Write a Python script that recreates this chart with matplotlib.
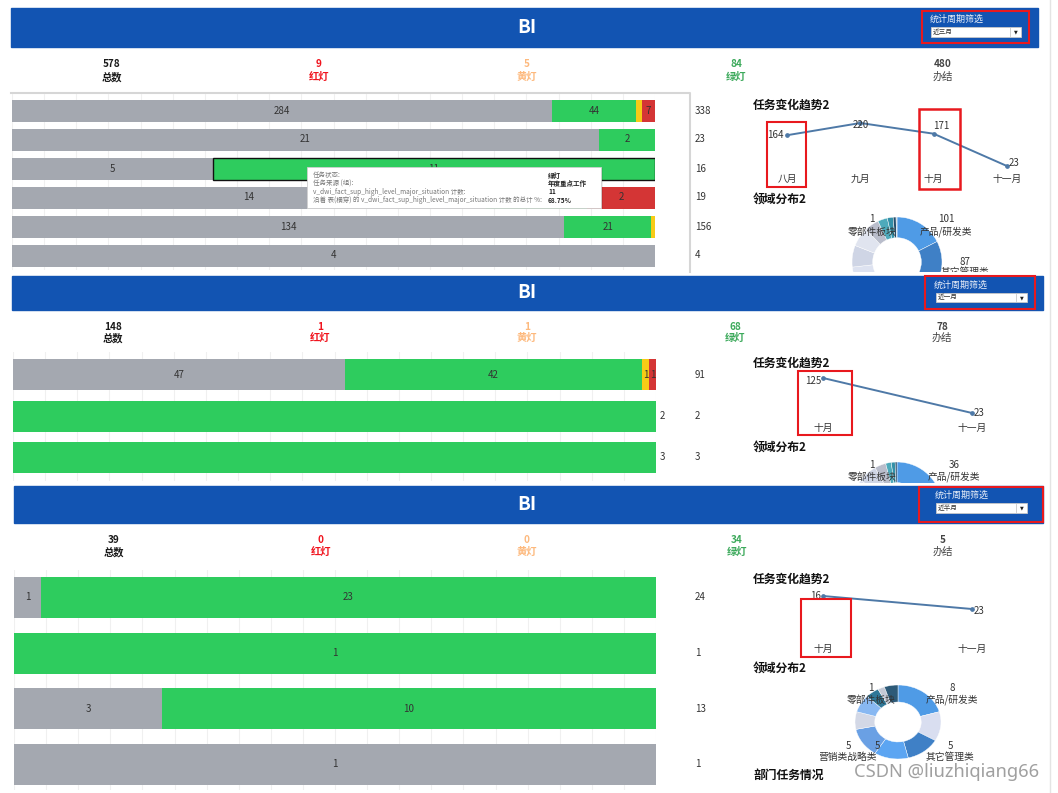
import matplotlib
matplotlib.use('Agg')
import matplotlib.pyplot as plt
import matplotlib.transforms as mtrans
from matplotlib.patches import Rectangle
import numpy as np

plt.rcParams['font.family'] = ['Noto Sans CJK SC', 'DejaVu Sans']

# ---------------- data ----------------
periods = ['近三月', '近一月', '近半月']
filter_title = '统计周期筛选'
kpi_labels = ['总数', '红灯', '黄灯', '绿灯', '办结']
kpi_values_1 = [578, 9, 5, 84, 480]
kpi_values_2 = [148, 1, 1, 68, 78]
kpi_values_3 = [39, 0, 0, 34, 5]

# stacked segments per row: 办结(grey), 绿灯, 黄灯, 红灯
p1_done = [284, 21, 5, 14, 134, 4]
p1_green = [44, 2, 11, 3, 21, 0]
p1_yellow = [3, 0, 0, 0, 1, 0]
p1_red = [7, 0, 0, 2, 0, 0]

p2_done = [47, 0, 0]
p2_green = [42, 2, 3]
p2_yellow = [1, 0, 0]
p2_red = [1, 0, 0]

p3_done = [1, 0, 3, 1]
p3_green = [23, 1, 10, 0]
p3_yellow = [0, 0, 0, 0]
p3_red = [0, 0, 0, 0]

trend_title = '任务变化趋势2'
trend_months_1 = ['八月', '九月', '十月', '十一月']
trend_values_1 = [164, 220, 171, 23]
trend_months_2 = ['十月', '十一月']
trend_values_2 = [125, 23]
trend_months_3 = ['十月', '十一月']
trend_values_3 = [16, 23]

domain_title = '领域分布2'
domain_values_1 = [101, 87, 95, 80, 60, 45, 40, 30, 20, 12, 6, 1, 1]
domain_values_2 = [36, 30, 25, 20, 15, 10, 6, 3, 2, 1]
domain_values_3 = [8, 5, 5, 5, 5, 3, 3, 2, 1, 2]
domain_labels_1 = [('1', '零部件板块'), ('101', '产品/研发类'), ('87', '其它管理类')]
domain_labels_2 = [('1', '零部件板块'), ('36', '产品/研发类')]
domain_labels_3 = [('1', '零部件板块'), ('8', '产品/研发类'), ('5', '其它管理类'),
                   ('5', ''), ('5', '营销类战略类')]

tooltip_keys = ['任务状态:', '任务来源 (组):',
                'v_dwi_fact_sup_high_level_major_situation 计数:',
                '沿着 表(横穿) 的 v_dwi_fact_sup_high_level_major_situation 计数 的总计 %:']
tooltip_vals = ['绿灯', '年度重点工作', '11', '68.75%']

# ---------------- styles ----------------
W, H = 1058, 793
PT = 0.72
BLUE = '#1254B2'
RED_BOX = '#E8191E'
seg_colors = ['#A4A8B0', '#2ECC5E', '#F7CB16', '#D43535']
kpi_colors = ['#1a1a1a', '#F0141E', '#FDB97D', '#3DAA5C', '#444444']
kpi_weights = ['bold', 'bold', 'bold', 'bold', 'normal']
donut_colors_1 = ['#4F9BE6', '#3F80C6', '#6AA8EE', '#5EA8F2', '#DDE2F0', '#CFD5E5',
                  '#E0E4EF', '#B9BDCB', '#4EAABB', '#3390A8', '#254E6C', '#CFE0EA', '#2C5472']
donut_colors_2 = ['#4F9BE6', '#3F80C6', '#6AA8EE', '#5EA8F2', '#DDE2F0', '#CFD5E5',
                  '#B9BDCB', '#4EAABB', '#3390A8', '#254E6C']
donut_colors_3 = ['#4F9BE6', '#D9DEF0', '#3F80C6', '#5CA5F2', '#6AA0E4', '#D3D8E6',
                  '#88B8F2', '#2F7898', '#C5CAD6', '#2D5A78']

fig = plt.figure(figsize=(W / 100, H / 100), dpi=100)


def fbox(x0, y0, x1, y1):
    return [x0 / W, 1 - y1 / H, (x1 - x0) / W, (y1 - y0) / H]


bg = fig.add_axes([0, 0, 1, 1], zorder=0)
bg.set_xlim(0, W); bg.set_ylim(H, 0); bg.axis('off')
ov = fig.add_axes([0, 0, 1, 1], zorder=10)
ov.set_xlim(0, W); ov.set_ylim(H, 0); ov.axis('off')

# page edge line
bg.plot([1050, 1050], [0, H], color='#e4e4e4', lw=1)


def header(hb, fb, ftxt, dd, sep, period):
    x0, y0, x1, y1 = hb
    bg.add_patch(Rectangle((x0, y0), x1 - x0, y1 - y0, color=BLUE, zorder=1))
    bg.text(527, (y0 + y1) / 2, 'BI', color='white', fontsize=13.5, fontweight='bold',
            ha='center', va='center', zorder=2)
    bg.text(ftxt[0], ftxt[1], filter_title, color='#e8eef8', fontsize=6.5,
            ha='left', va='center', zorder=2)
    dx0, dy0, dx1, dy1 = dd
    bg.add_patch(Rectangle((dx0, dy0), dx1 - dx0, dy1 - dy0, facecolor='white',
                           edgecolor='#c8c8c8', lw=0.6, zorder=2))
    bg.plot([sep, sep], [dy0 + 1, dy1 - 1], color='#c8c8c8', lw=0.6, zorder=3)
    bg.text(dx0 + 2, (dy0 + dy1) / 2, period, fontsize=4.8, color='#333',
            ha='left', va='center', zorder=3)
    bg.text((sep + dx1) / 2, (dy0 + dy1) / 2 + 0.3, '▼', fontsize=3.5, color='#222',
            ha='center', va='center', zorder=3, family='DejaVu Sans')
    fx0, fy0, fx1, fy1 = fb
    ov.add_patch(Rectangle((fx0, fy0), fx1 - fx0, fy1 - fy0, fill=False,
                           ec=RED_BOX, lw=1.5))


def kpis(xs, y_num, y_lab, values):
    for x, v, lab, c, w in zip(xs, values, kpi_labels, kpi_colors, kpi_weights):
        bg.text(x, y_num, str(v), color=c, fontsize=7.2, fontweight='bold',
                ha='center', va='center')
        bg.text(x, y_lab, lab, color=c, fontsize=7.4, fontweight=w,
                ha='center', va='center')


def draw_bars(ax_px, c0, step, h, series, label_outside=False, highlight=None):
    x0, y0, x1, y1 = ax_px
    ax = fig.add_axes(fbox(*ax_px), zorder=1)
    n = len(series[0])
    totals = [sum(s[i] for s in series) for i in range(n)]
    ypos = np.arange(n)
    left = np.zeros(n)
    for k, s in enumerate(series):
        pct = np.array([s[i] / totals[i] * 100 for i in range(n)])
        bc = ax.barh(ypos, pct, left=left, height=h / step, color=seg_colors[k],
                     zorder=2, lw=0)
        for i in range(n):
            if s[i] == 0:
                continue
            if highlight == (i, k):
                bc[i].set_edgecolor('#111')
                bc[i].set_linewidth(1.0)
            wpx = pct[i] / 100 * (x1 - x0)
            if label_outside and pct[i] >= 99.9:
                ax.text(100 + 3.5 / (x1 - x0) * 100, i, str(s[i]), ha='left',
                        va='center', fontsize=7, color='#333', clip_on=False)
            elif wpx >= 6:
                ax.text(left[i] + pct[i] / 2, i, str(s[i]), ha='center',
                        va='center', fontsize=7, color='#333', zorder=3)
        left += pct
    xt = (695 - x0) / (x1 - x0) * 100
    for i, t in enumerate(totals):
        ax.text(xt, i, str(t), ha='left', va='center', fontsize=7, color='#333',
                clip_on=False)
    ax.set_xlim(0, 100)
    ax.set_ylim((y1 - c0) / step, (y0 - c0) / step)
    ax.set_xticks(np.arange(0, 101, 5))
    ax.set_yticks([])
    ax.grid(axis='x', color='#f0f0f0', lw=0.8, zorder=0)
    ax.set_axisbelow(True)
    ax.tick_params(length=0, labelbottom=False)
    for sp in ax.spines.values():
        sp.set_visible(False)
    ax.patch.set_alpha(0)
    return ax


def draw_trend(ax_px, x_first, x_step, months, values, top_px, bot_px, month_y,
               offsets):
    x0, y0, x1, y1 = ax_px
    ax = fig.add_axes(fbox(*ax_px), zorder=2)
    ax.axis('off')
    xs = np.arange(len(values))
    ax.set_xlim((x0 - x_first) / x_step, (x1 - x_first) / x_step)
    vmax, vmin = max(values), min(values)
    b = (bot_px - top_px) / (vmin - vmax)
    ax.set_ylim(vmax + (y1 - top_px) / b, vmax + (y0 - top_px) / b)
    ax.plot(xs, values, color='#4E79A7', lw=1.4, marker='o', ms=2.4, zorder=3)
    tr = mtrans.blended_transform_factory(ax.transData, fig.transFigure)
    for i, m in enumerate(months):
        ax.text(i, 1 - month_y / H, m, transform=tr, ha='center', va='center',
                fontsize=7, color='#333')
    for i, v in enumerate(values):
        dx, dy, ha = offsets[i]
        ax.annotate(str(v), (i, v), xytext=(dx * PT, -dy * PT),
                    textcoords='offset points', ha=ha, va='center', fontsize=7,
                    color='#333')


def draw_donut(ax_px, center, rx, ry, values, colors, labels, label_pos):
    x0, y0, x1, y1 = ax_px
    cx, cy = center
    sy = ry / rx
    ax = fig.add_axes(fbox(*ax_px), zorder=2)
    wedges, _ = ax.pie(values, radius=rx, colors=colors, startangle=90,
                       counterclock=False,
                       wedgeprops=dict(width=rx * 0.46, edgecolor='white',
                                       linewidth=0.3))
    for w in wedges:
        w.set_clip_path(ax.patch)
        w.set_clip_on(True)
    ax.set_aspect('auto')
    ax.set_xlim(x0 - cx, x1 - cx)
    ax.set_ylim((cy - y1) / sy, (cy - y0) / sy)
    ax.axis('off')
    for (num, name), (lx, ly, ly2) in zip(labels, label_pos):
        ax.text(lx, ly / sy, num, ha='center', va='center', fontsize=7,
                color='#333', clip_on=True)
        if name:
            ax.text(lx, ly2 / sy, name, ha='center', va='center', fontsize=7,
                    color='#333', clip_on=True)


# ---------------- panel 1 ----------------
header((11, 8, 1038, 47), (922, 11, 1029, 43), (930, 19), (931, 27, 1021, 37), 1010,
       periods[0])
kpis([112, 319, 527, 736, 943], 64, 77, kpi_values_1)
bg.plot([11, 690, 690], [92.5, 92.5, 272], color='#d6d6d6', lw=1.5)
draw_bars((12, 94, 655, 270), 110.5, 29, 22, [p1_done, p1_green, p1_yellow, p1_red],
          highlight=(2, 1))
bg.text(753, 105, trend_title, fontsize=8.5, fontweight='bold', ha='left',
        va='center', color='#111')
draw_trend((753, 110, 1040, 190), 787, 73.3, trend_months_1, trend_values_1, 123, 166,
           179, [(-3, 0, 'right'), (0, 2, 'center'), (8, -8, 'center'), (2, -3, 'left')])
ov.add_patch(Rectangle((767, 122), 39, 65, fill=False, ec=RED_BOX, lw=1.5))
ov.add_patch(Rectangle((919, 109), 41, 80, fill=False, ec=RED_BOX, lw=1.8))
bg.text(753, 199, domain_title, fontsize=8.5, fontweight='bold', ha='left',
        va='center', color='#111')
draw_donut((830, 205, 1040, 272), (897, 262), 45, 45, domain_values_1, donut_colors_1,
           domain_labels_1, [(-25, 43, 30), (49, 43, 30), (68, 0, -10)])

# tooltip
ov.add_patch(Rectangle((309, 168), 294, 41, facecolor='#000000', alpha=0.08, lw=0))
ov.add_patch(Rectangle((307, 167), 294, 41, facecolor='white', edgecolor='#d0d0d0',
                       lw=0.6))
for j, (k, v) in enumerate(zip(tooltip_keys, tooltip_vals)):
    yy = 175.5 + 8.2 * j
    ov.text(313, yy, k, fontsize=4.7, color='#777', ha='left', va='center')
    ov.text(548, yy, v, fontsize=4.7, color='#222', ha='left', va='center',
            fontweight='bold')

# ---------------- panel 2 ----------------
header((12, 276, 1043, 310), (925, 276, 1035, 309), (934, 285), (936, 293, 1027, 302),
       1016, periods[1])
kpis([113, 320, 527, 735, 942], 327, 338, kpi_values_2)
draw_bars((13, 352, 656, 481), 374.5, 41.5, 31, [p2_done, p2_green, p2_yellow, p2_red],
          label_outside=True)
bg.text(753, 363, trend_title, fontsize=8.5, fontweight='bold', ha='left',
        va='center', color='#111')
draw_trend((753, 368, 1040, 440), 823, 149, trend_months_2, trend_values_2, 378, 413,
           428, [(-2, 3, 'right'), (2, 0, 'left')])
ov.add_patch(Rectangle((798, 371), 54, 64, fill=False, ec=RED_BOX, lw=1.5))
bg.text(753, 447, domain_title, fontsize=8.5, fontweight='bold', ha='left',
        va='center', color='#111')
draw_donut((830, 455, 1040, 483), (897, 507), 45, 45, domain_values_2, donut_colors_2,
           domain_labels_2, [(-25, 42, 30), (57, 42, 30)])

# ---------------- panel 3 ----------------
header((14, 486, 1043, 523), (919, 487, 1043, 522), (935, 495), (936, 503, 1027, 513),
       1016, periods[2])
kpis([114, 321, 527, 737, 943], 540, 552, kpi_values_3)
draw_bars((14, 570, 656, 790), 597.5, 55.5, 41, [p3_done, p3_green, p3_yellow, p3_red])
bg.text(753, 579, trend_title, fontsize=8.5, fontweight='bold', ha='left',
        va='center', color='#111')
draw_trend((753, 585, 1040, 660), 823, 149, trend_months_3, trend_values_3, 609, 596,
           649, [(-2, 0, 'right'), (2, 2, 'left')])
ov.add_patch(Rectangle((801, 599), 50, 58, fill=False, ec=RED_BOX, lw=1.5))
bg.text(753, 668, domain_title, fontsize=8.5, fontweight='bold', ha='left',
        va='center', color='#111')
draw_donut((820, 675, 1045, 770), (898, 722), 43, 37, domain_values_3, donut_colors_3,
           domain_labels_3,
           [(-27, 34, 22), (54, 34, 22), (52, -24, -35), (-21, -24, -35),
            (-50, -24, -35)])
bg.text(753, 775, '部门任务情况', fontsize=8.5, fontweight='bold', ha='left',
        va='center', color='#111')
ov.text(947, 772, 'CSDN @liuzhiqiang66', fontsize=13.2, color='#a0a0a0',
        ha='center', va='center', family='Noto Sans')

fig.savefig('out.png', dpi=100)
